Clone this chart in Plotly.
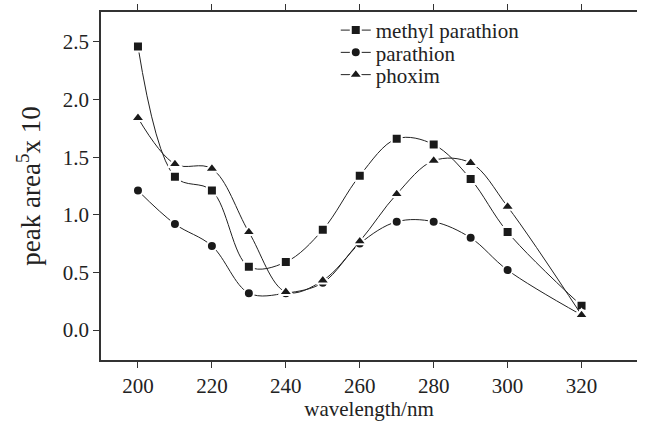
import plotly.graph_objects as go

wavelength = [200, 210, 220, 230, 240, 250, 260, 270, 280, 290, 300, 320]
methyl_parathion = [2.46, 1.33, 1.21, 0.55, 0.59, 0.87, 1.34, 1.66, 1.61, 1.31, 0.85, 0.21]
parathion = [1.21, 0.92, 0.73, 0.32, 0.32, 0.41, 0.75, 0.94, 0.94, 0.80, 0.52, 0.13]
phoxim = [1.84, 1.44, 1.40, 0.85, 0.33, 0.43, 0.77, 1.18, 1.47, 1.45, 1.07, 0.13]

series = [
    ("methyl parathion", methyl_parathion, "square", 10, "legend"),
    ("parathion", parathion, "circle", 10, "legend2"),
    ("phoxim", phoxim, "triangle-up", 12, "legend3"),
]

FONT = "Liberation Serif, Times New Roman, serif"

fig = go.Figure()
for name, vals, sym, sz, lg in series:
    fig.add_trace(go.Scatter(
        x=wavelength, y=vals, name=name, mode="lines+markers", legend=lg,
        line=dict(color="#222", width=1, shape="spline", smoothing=1.0),
        marker=dict(symbol=sym, size=sz, color="#1a1a1a",
                    line=dict(color="white", width=2)),
    ))

leg_common = dict(x=0.438, xanchor="left", yanchor="middle",
                  bgcolor="rgba(0,0,0,0)", font=dict(family=FONT, size=21, color="#222"),
                  itemwidth=30)
fig.update_layout(
    width=654, height=421,
    margin=dict(l=101, r=17, t=12, b=61, autoexpand=False),
    paper_bgcolor="white", plot_bgcolor="white",
    font=dict(family=FONT, color="#222", size=21),
    showlegend=True,
    legend=dict(y=0.947, **leg_common),
    legend2=dict(y=0.883, **leg_common),
    legend3=dict(y=0.819, **leg_common),
)
fig.update_xaxes(
    range=[190, 335], tickvals=[200, 220, 240, 260, 280, 300, 320],
    showline=True, linecolor="#333", linewidth=1.5, mirror="ticks",
    ticks="outside", ticklen=6, tickcolor="#333", showgrid=False, zeroline=False,
    tickfont=dict(family=FONT, size=21), automargin=False,
    title=dict(text="wavelength/nm", font=dict(family=FONT, size=21), standoff=14),
)
fig.update_yaxes(
    range=[-0.26, 2.76], tickvals=[0, 0.5, 1.0, 1.5, 2.0, 2.5],
    ticktext=["0.0", "0.5", "1.0", "1.5", "2.0", "2.5"],
    showline=True, linecolor="#333", linewidth=1.5, mirror=False,
    ticks="outside", ticklen=6, tickcolor="#333", showgrid=False, zeroline=False,
    tickfont=dict(family=FONT, size=21), automargin=False,
    title=dict(text="peak area<sup>5</sup>x 10", font=dict(family=FONT, size=27), standoff=14),
)

fig.write_html("out.html")
